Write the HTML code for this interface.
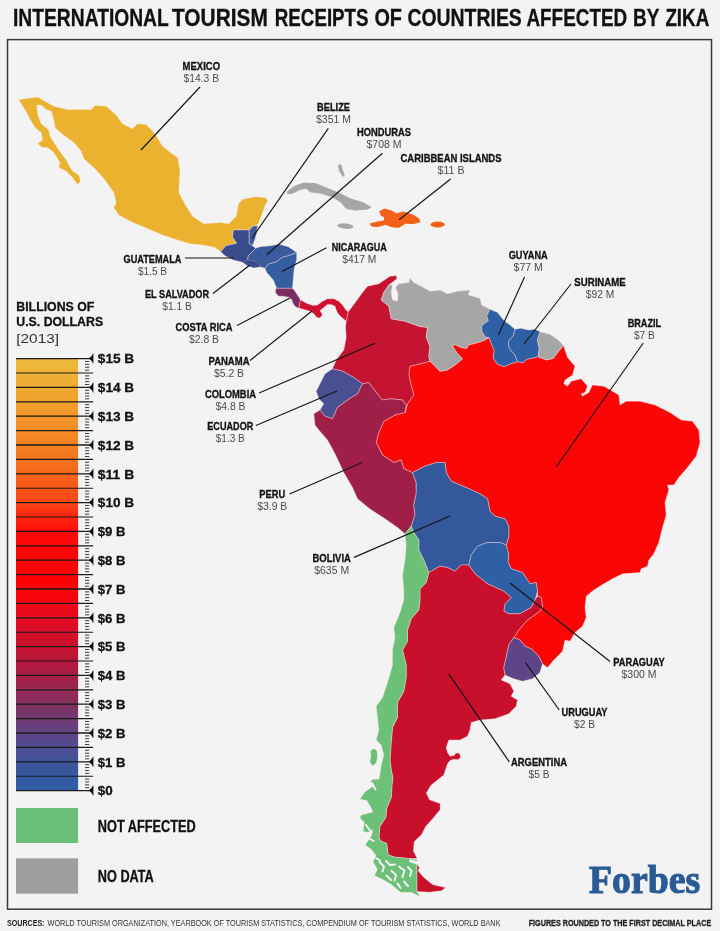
<!DOCTYPE html>
<html><head><meta charset="utf-8"><title>International Tourism Receipts of Countries Affected by Zika</title>
<style>html,body{margin:0;padding:0;background:#f3f3f3;}body{width:720px;height:931px;overflow:hidden;font-family:"Liberation Sans", sans-serif;}svg{display:block;will-change:transform;}text{font-family:"Liberation Sans", sans-serif;}</style>
</head><body>
<svg width="720" height="931" viewBox="0 0 720 931">
<defs><linearGradient id="lg" x1="0" y1="0" x2="0" y2="1">
<stop offset="0.000" stop-color="#ecba3b"/>
<stop offset="0.067" stop-color="#efa934"/>
<stop offset="0.133" stop-color="#f3952a"/>
<stop offset="0.200" stop-color="#f58122"/>
<stop offset="0.267" stop-color="#f6651b"/>
<stop offset="0.333" stop-color="#f94515"/>
<stop offset="0.367" stop-color="#fc260e"/>
<stop offset="0.400" stop-color="#fe0c07"/>
<stop offset="0.467" stop-color="#ff0000"/>
<stop offset="0.533" stop-color="#fb0205"/>
<stop offset="0.600" stop-color="#e40b1f"/>
<stop offset="0.667" stop-color="#c8102e"/>
<stop offset="0.733" stop-color="#a81e47"/>
<stop offset="0.800" stop-color="#82305f"/>
<stop offset="0.867" stop-color="#5f4486"/>
<stop offset="0.933" stop-color="#3f549a"/>
<stop offset="1.000" stop-color="#2c5fa6"/>
</linearGradient></defs>
<rect width="720" height="931" fill="#f3f3f3"/>
<text x="13.0" y="25.9" font-size="23.00" font-weight="bold" fill="#111" text-anchor="start" textLength="155.8" lengthAdjust="spacingAndGlyphs"  stroke="#111" stroke-width="0.3">INTERNATIONAL</text>
<text x="172.0" y="25.9" font-size="23.00" font-weight="bold" fill="#111" text-anchor="start" textLength="95.8" lengthAdjust="spacingAndGlyphs"  stroke="#111" stroke-width="0.3">TOURISM</text>
<text x="274.8" y="25.9" font-size="23.00" font-weight="bold" fill="#111" text-anchor="start" textLength="93.8" lengthAdjust="spacingAndGlyphs"  stroke="#111" stroke-width="0.3">RECEIPTS</text>
<text x="374.4" y="25.9" font-size="23.00" font-weight="bold" fill="#111" text-anchor="start" textLength="27.6" lengthAdjust="spacingAndGlyphs"  stroke="#111" stroke-width="0.3">OF</text>
<text x="407.4" y="25.9" font-size="23.00" font-weight="bold" fill="#111" text-anchor="start" textLength="114.4" lengthAdjust="spacingAndGlyphs"  stroke="#111" stroke-width="0.3">COUNTRIES</text>
<text x="526.4" y="25.9" font-size="23.00" font-weight="bold" fill="#111" text-anchor="start" textLength="100.8" lengthAdjust="spacingAndGlyphs"  stroke="#111" stroke-width="0.3">AFFECTED</text>
<text x="633.0" y="25.9" font-size="23.00" font-weight="bold" fill="#111" text-anchor="start" textLength="26.4" lengthAdjust="spacingAndGlyphs"  stroke="#111" stroke-width="0.3">BY</text>
<text x="665.4" y="25.9" font-size="23.00" font-weight="bold" fill="#111" text-anchor="start" textLength="43.8" lengthAdjust="spacingAndGlyphs"  stroke="#111" stroke-width="0.3">ZIKA</text>
<rect x="7.5" y="39.6" width="704" height="869.6" fill="none" stroke="#3a3a3a" stroke-width="1.5"/>
<g stroke="rgba(255,228,228,0.55)" stroke-width="0.7" stroke-linejoin="round">
<path d="M18.8 99.5 L37.5 97.0 L53.8 106.2 L67.5 109.5 L91.2 109.5 L95.0 105.5 L106.2 106.2 L116.2 115.0 L122.5 123.8 L132.5 128.8 L137.5 123.8 L146.2 124.5 L155.0 133.8 L162.5 146.2 L168.8 151.2 L177.5 157.5 L180.0 170.0 L178.8 192.5 L186.2 206.2 L192.5 216.2 L203.8 223.8 L220.0 222.5 L228.8 223.8 L236.2 216.2 L238.3 204.2 L242.5 199.2 L255.0 196.7 L265.0 197.5 L268.0 200.0 L265.0 205.8 L261.7 215.0 L258.3 224.2 L253.7 225.8 L249.2 230.0 L233.3 230.0 L232.5 236.7 L236.7 243.3 L225.8 245.8 L220.8 251.7 L215.0 247.5 L202.5 245.0 L190.0 243.8 L177.5 240.0 L162.5 235.0 L145.0 227.5 L130.0 221.2 L118.8 215.0 L113.8 207.5 L116.2 202.5 L113.8 192.5 L105.0 180.0 L95.0 168.8 L83.8 158.8 L81.2 151.2 L73.8 142.5 L65.0 136.2 L58.8 131.2 L55.0 127.5 L53.8 120.0 L51.2 111.2 L46.2 109.5 L41.2 105.0 L37.0 105.0 L37.5 113.8 L41.2 123.8 L48.8 130.0 L50.0 136.2 L58.8 150.0 L66.2 160.0 L72.5 171.2 L78.8 175.0 L80.5 181.2 L77.5 184.5 L72.5 177.5 L66.2 171.2 L58.8 167.5 L60.0 162.5 L53.8 152.5 L47.5 147.5 L42.5 147.5 L37.5 143.8 L42.5 140.0 L41.2 132.5 L35.0 127.5 L31.2 121.2 L25.0 110.0Z" fill="#ebb22f" />
<path d="M430.0 361.2 L433.8 365.0 L440.0 371.2 L447.5 370.0 L455.0 365.0 L462.5 358.8 L457.5 353.8 L452.5 346.2 L455.0 344.5 L461.2 347.5 L466.7 348.3 L468.3 345.0 L475.0 343.3 L483.3 340.8 L489.2 337.5 L490.8 342.5 L494.2 350.0 L493.3 358.3 L497.5 364.2 L504.2 366.7 L511.7 363.3 L517.5 361.7 L523.3 362.5 L526.7 359.2 L531.7 358.3 L538.3 356.7 L546.7 360.0 L553.3 358.3 L558.3 351.7 L563.5 345.5 L567.5 357.5 L575.0 366.2 L572.5 375.0 L565.0 380.0 L563.8 383.8 L567.5 386.2 L571.2 381.2 L581.2 378.8 L587.5 386.2 L585.0 392.5 L581.2 393.8 L582.5 396.2 L588.8 392.5 L592.5 385.0 L603.8 386.2 L612.5 391.2 L618.8 395.0 L620.0 405.0 L626.2 401.2 L640.0 401.2 L655.0 405.0 L670.0 412.5 L681.2 420.0 L692.5 421.2 L698.8 430.0 L700.0 442.5 L696.2 456.2 L687.5 467.5 L678.8 477.5 L673.8 485.0 L667.5 485.0 L668.8 490.0 L665.0 502.5 L666.2 515.0 L662.5 527.5 L658.8 542.5 L653.8 553.8 L648.8 560.0 L647.5 566.2 L641.2 568.8 L640.0 572.5 L622.5 573.8 L612.5 578.8 L603.8 583.8 L593.8 590.0 L586.2 596.2 L585.0 607.5 L586.2 617.5 L582.5 626.2 L575.0 632.5 L570.0 641.2 L565.0 640.0 L562.5 651.2 L553.8 660.0 L547.5 667.5 L542.5 663.8 L538.8 656.2 L531.2 648.8 L525.0 646.2 L520.0 640.0 L513.8 637.5 L518.8 630.0 L527.5 620.0 L540.0 611.2 L542.5 606.2 L541.2 597.5 L537.5 596.0 L537.5 591.2 L536.2 582.5 L530.0 583.8 L522.5 572.5 L511.2 568.8 L508.0 562.0 L508.8 555.0 L506.2 545.0 L508.8 536.2 L508.8 526.2 L505.0 518.8 L495.0 516.2 L490.0 511.2 L487.5 498.8 L480.0 493.8 L466.2 487.5 L451.2 481.2 L446.2 472.5 L445.0 462.5 L436.2 462.5 L425.0 466.2 L412.5 472.5 L403.8 468.8 L401.2 460.0 L393.8 462.5 L382.5 455.0 L376.2 442.5 L378.8 432.5 L383.8 421.2 L395.0 415.0 L405.0 412.5 L407.5 403.8 L413.8 395.0 L411.2 385.0 L408.8 375.0 L410.0 366.2 L420.0 363.8Z" fill="#fb0505" />
<path d="M348.1 311.9 L352.5 306.2 L362.5 292.5 L367.5 286.2 L378.8 283.8 L390.0 276.2 L396.2 275.5 L397.0 278.8 L388.8 285.0 L383.8 292.5 L381.2 300.0 L388.8 306.2 L391.2 318.8 L405.0 321.2 L418.8 326.2 L427.5 327.5 L426.2 337.5 L430.0 346.2 L428.8 356.2 L430.0 361.2 L420.0 363.8 L410.0 366.2 L408.8 375.0 L411.2 385.0 L413.8 395.0 L407.5 403.8 L405.0 412.5 L406.2 405.0 L402.5 400.0 L391.2 398.8 L382.5 400.0 L376.2 392.5 L368.8 382.5 L362.5 383.8 L353.8 377.5 L342.5 371.2 L332.5 368.8 L336.2 360.0 L343.8 350.0 L346.2 337.5 L345.5 327.0 L346.2 321.2Z" fill="#c41432" />
<path d="M392.5 285.0 L391.2 292.5 L392.5 300.0 L397.5 301.2 L398.0 293.8 L395.5 287.5 L398.8 283.8 L408.8 282.5 L410.0 278.0 L413.8 282.5 L421.2 286.2 L430.0 291.2 L440.0 290.0 L447.5 293.8 L457.5 291.2 L470.0 290.0 L468.3 295.0 L480.0 298.3 L481.7 305.0 L490.0 309.2 L486.7 315.8 L488.3 320.8 L481.7 325.8 L481.7 330.8 L485.0 336.7 L489.2 337.5 L483.3 340.8 L475.0 343.3 L468.3 345.0 L466.7 348.3 L461.2 347.5 L455.0 344.5 L452.5 346.2 L457.5 353.8 L462.5 358.8 L455.0 365.0 L447.5 370.0 L440.0 371.2 L433.8 365.0 L430.0 361.2 L428.8 356.2 L430.0 346.2 L426.2 337.5 L427.5 327.5 L418.8 326.2 L405.0 321.2 L391.2 318.8 L388.8 306.2 L381.2 300.0 L383.8 292.5 L388.8 285.0Z" fill="#a6a6a6" />
<path d="M490.0 309.2 L497.5 312.5 L504.2 320.8 L510.0 325.0 L515.0 329.2 L513.3 335.8 L508.3 341.7 L509.2 348.3 L515.0 355.0 L517.5 361.7 L511.7 363.3 L504.2 366.7 L497.5 364.2 L493.3 358.3 L494.2 350.0 L490.8 342.5 L489.2 337.5 L485.0 336.7 L481.7 330.8 L481.7 325.8 L488.3 320.8 L486.7 315.8Z" fill="#2f5fa4" />
<path d="M515.0 329.2 L520.8 328.3 L528.3 330.0 L535.0 329.2 L540.0 331.7 L537.5 340.0 L539.2 348.3 L538.3 356.7 L531.7 358.3 L526.7 359.2 L523.3 362.5 L517.5 361.7 L515.0 355.0 L509.2 348.3 L508.3 341.7 L513.3 335.8Z" fill="#2f5fa4" />
<path d="M540.0 331.7 L550.0 334.2 L558.3 340.0 L563.5 345.5 L558.3 351.7 L553.3 358.3 L546.7 360.0 L538.3 356.7 L539.2 348.3 L537.5 340.0Z" fill="#a6a6a6" />
<path d="M332.5 368.8 L342.5 371.2 L353.8 377.5 L362.5 383.8 L357.5 393.8 L347.5 400.0 L337.5 407.5 L332.5 418.8 L325.0 416.2 L320.0 410.0 L323.8 403.8 L318.8 398.8 L316.2 391.2 L320.0 383.8 L325.0 373.8Z" fill="#4a4f92" />
<path d="M320.0 410.0 L325.0 416.2 L332.5 418.8 L337.5 407.5 L347.5 400.0 L357.5 393.8 L362.5 383.8 L368.8 382.5 L376.2 392.5 L382.5 400.0 L391.2 398.8 L402.5 400.0 L406.2 405.0 L405.0 412.5 L395.0 415.0 L383.8 421.2 L378.8 432.5 L376.2 442.5 L382.5 455.0 L393.8 462.5 L401.2 460.0 L403.8 468.8 L412.5 472.5 L416.2 482.5 L416.2 493.8 L413.8 505.0 L415.0 515.0 L411.2 526.2 L405.0 533.8 L397.5 527.5 L385.0 518.8 L370.0 509.0 L357.5 498.8 L352.5 487.5 L343.8 472.5 L335.0 453.8 L327.5 440.0 L318.8 430.0 L315.0 425.0 L313.8 413.8Z" fill="#a01f48" />
<path d="M412.5 472.5 L425.0 466.2 L436.2 462.5 L445.0 462.5 L446.2 472.5 L451.2 481.2 L466.2 487.5 L480.0 493.8 L487.5 498.8 L490.0 511.2 L495.0 516.2 L505.0 518.8 L508.8 526.2 L508.8 536.2 L506.2 545.0 L500.0 542.5 L487.5 542.5 L477.5 546.2 L471.2 555.0 L468.8 565.0 L461.2 565.0 L455.0 571.2 L447.5 567.5 L440.0 566.2 L431.2 571.2 L428.8 572.5 L423.8 560.0 L418.8 550.0 L418.8 540.0 L413.8 532.5 L411.2 526.2 L415.0 515.0 L413.8 505.0 L416.2 493.8 L416.2 482.5Z" fill="#35589c" />
<path d="M506.2 545.0 L508.8 555.0 L508.0 562.0 L511.2 568.8 L522.5 572.5 L530.0 583.8 L536.2 582.5 L537.5 591.2 L535.0 600.0 L531.2 607.5 L520.0 613.8 L508.8 613.8 L503.8 611.2 L505.0 603.8 L511.2 597.5 L503.8 591.2 L487.5 583.8 L475.0 573.8 L468.8 565.0 L471.2 555.0 L477.5 546.2 L487.5 542.5 L500.0 542.5Z" fill="#2f5fa4" />
<path d="M428.8 572.5 L431.2 571.2 L440.0 566.2 L447.5 567.5 L455.0 571.2 L461.2 565.0 L468.8 565.0 L475.0 573.8 L487.5 583.8 L503.8 591.2 L511.2 597.5 L505.0 603.8 L503.8 611.2 L508.8 613.8 L520.0 613.8 L531.2 607.5 L535.0 600.0 L537.5 596.0 L541.2 597.5 L542.5 606.2 L540.0 611.2 L527.5 620.0 L518.8 630.0 L513.8 637.5 L508.8 645.0 L506.2 657.5 L503.8 667.5 L505.0 675.0 L501.2 680.0 L510.0 683.8 L513.8 691.2 L511.2 696.2 L517.5 700.0 L516.2 706.2 L508.8 713.8 L495.0 718.8 L480.0 720.0 L471.2 722.5 L470.0 730.0 L467.5 736.2 L460.0 740.0 L448.8 740.0 L446.2 747.5 L447.5 752.5 L450.0 756.3 L454.0 755.6 L456.0 753.0 L459.5 753.3 L460.7 757.0 L458.0 759.7 L454.0 759.2 L450.0 760.5 L447.5 763.8 L443.8 775.0 L431.0 785.3 L426.4 792.9 L429.5 799.8 L440.1 803.6 L440.1 809.7 L432.5 818.9 L425.6 826.5 L421.8 834.2 L414.2 841.8 L413.4 851.0 L417.2 858.6 L409.6 858.6 L394.3 857.1 L388.2 854.8 L386.7 843.3 L380.6 841.0 L379.0 837.2 L379.8 826.5 L385.9 817.4 L386.7 808.2 L391.3 797.5 L392.0 785.3 L392.8 777.6 L391.3 770.0 L390.0 760.0 L391.2 742.5 L392.5 727.5 L397.5 717.5 L397.5 702.5 L403.8 691.2 L406.2 677.5 L406.2 665.0 L402.5 650.0 L407.5 641.2 L407.5 630.0 L411.2 618.8 L418.8 610.0 L420.0 600.0 L420.0 588.8 L426.2 582.5Z" fill="#c8102c" />
<path d="M416.8 864.0 L419.5 867.8 L418.0 870.8 L423.3 877.0 L432.5 884.6 L445.5 887.6 L441.7 890.7 L429.5 892.2 L416.8 891.5Z" fill="#c8102c" />
<path d="M405.0 533.8 L411.2 526.2 L413.8 532.5 L418.8 540.0 L418.8 550.0 L423.8 560.0 L428.8 572.5 L426.2 582.5 L420.0 588.8 L420.0 600.0 L418.8 610.0 L411.2 618.8 L407.5 630.0 L407.5 641.2 L402.5 650.0 L406.2 665.0 L406.2 677.5 L403.8 691.2 L397.5 702.5 L397.5 717.5 L392.5 727.5 L391.2 742.5 L390.0 760.0 L391.3 770.0 L392.8 777.6 L392.0 785.3 L391.3 797.5 L386.7 808.2 L385.9 817.4 L379.8 826.5 L379.0 837.2 L380.6 841.0 L386.7 843.3 L388.2 854.8 L394.3 857.1 L409.6 858.6 L417.2 860.1 L416.8 864.0 L416.8 891.5 L420.3 896.8 L411.1 892.2 L400.4 892.2 L391.3 884.6 L383.6 880.0 L374.4 875.4 L377.5 869.3 L372.9 861.7 L376.0 855.6 L371.4 849.5 L365.3 844.9 L371.4 835.7 L372.9 829.6 L367.6 832.6 L363.0 831.1 L364.5 822.7 L359.9 817.4 L361.5 815.0 L372.9 812.0 L370.6 806.7 L366.8 800.6 L359.9 799.0 L365.3 791.4 L373.7 786.0 L370.6 781.5 L372.9 779.2 L379.0 779.2 L380.6 770.0 L381.2 765.0 L383.8 755.0 L381.2 745.0 L376.2 740.0 L378.8 730.0 L377.5 717.5 L376.2 706.2 L382.5 697.5 L387.5 682.5 L392.5 665.0 L392.5 650.0 L395.0 637.5 L393.8 627.5 L400.0 612.5 L403.8 600.0 L403.8 590.0 L402.5 575.0 L405.0 560.0 L406.2 545.0Z" fill="#6cc077" />
<path d="M371.0 751.0 L374.0 749.0 L376.5 751.0 L377.0 757.0 L375.5 763.0 L372.5 765.0 L370.5 762.0 L371.5 756.0Z" fill="#6cc077" stroke="#6cc077" stroke-width="0.9"/>
<path d="M513.8 637.5 L520.0 640.0 L525.0 646.2 L531.2 648.8 L538.8 656.2 L542.5 663.8 L540.0 672.5 L532.5 678.8 L522.5 681.2 L513.8 678.8 L505.0 675.0 L503.8 667.5 L506.2 657.5 L508.8 645.0Z" fill="#5e4588" />
<path d="M233.3 230.0 L249.2 230.0 L249.2 243.3 L252.5 245.8 L255.8 248.3 L248.3 255.8 L247.5 260.0 L243.3 262.5 L233.3 260.0 L225.0 255.8 L220.8 251.7 L225.8 245.8 L236.7 243.3 L232.5 236.7Z" fill="#3a4b8c" />
<path d="M253.7 225.8 L257.5 225.8 L256.7 233.3 L255.0 239.2 L252.5 245.8 L249.2 243.3 L249.2 235.0 L249.2 230.0Z" fill="#3b5a9c" />
<path d="M255.8 248.3 L260.0 246.7 L270.0 245.8 L279.2 244.2 L288.3 246.7 L296.7 252.5 L288.3 255.8 L281.7 257.5 L276.7 261.7 L268.3 264.2 L265.0 268.3 L259.2 266.7 L259.2 263.3 L253.3 260.8 L247.5 260.0 L248.3 255.8Z" fill="#3a5a9d" />
<path d="M243.3 262.5 L247.5 260.0 L253.3 260.8 L259.2 263.3 L259.2 266.7 L253.3 267.5 L246.7 265.0Z" fill="#3a4b8c" stroke="#3a4b8c" stroke-width="0.5"/>
<path d="M296.7 252.5 L296.7 260.0 L294.2 268.3 L293.3 278.3 L292.5 288.3 L276.7 288.3 L273.3 280.0 L266.7 272.5 L265.0 268.3 L268.3 264.2 L276.7 261.7 L281.7 257.5 L288.3 255.8Z" fill="#355da2" />
<path d="M276.2 288.3 L292.0 288.3 L293.8 289.4 L297.5 295.0 L300.6 300.0 L298.8 308.1 L295.6 306.9 L293.1 303.8 L291.9 300.0 L289.4 297.5 L283.8 296.2 L278.8 296.2 L275.6 293.1 L275.4 290.5Z" fill="#7a2f63" />
<path d="M300.6 300.0 L306.2 303.1 L313.1 305.6 L317.5 305.0 L322.5 301.2 L327.5 298.8 L333.8 298.8 L338.8 301.2 L342.5 305.0 L345.6 309.4 L348.1 311.9 L346.2 321.2 L341.9 317.5 L338.1 313.8 L336.2 310.0 L335.0 306.2 L331.2 304.4 L327.5 304.4 L323.8 307.5 L320.0 310.6 L322.5 314.4 L320.0 318.1 L316.9 317.5 L313.8 313.8 L310.0 311.2 L303.8 309.4 L298.8 308.1Z" fill="#d0102f" />
<path d="M287.1 191.9 L294.2 186.4 L303.6 183.1 L315.4 183.6 L327.2 188.3 L339.0 193.1 L350.8 199.0 L362.6 202.5 L370.9 207.2 L367.4 209.1 L355.6 210.1 L346.1 208.4 L341.4 202.5 L331.9 196.6 L320.1 193.1 L310.7 191.9 L306.0 188.3 L300.1 189.5 L291.8 193.5 L287.6 193.5Z" fill="#a6a6a6" stroke="#a6a6a6" stroke-width="0.9"/>
<path d="M338.4 165.0 L341.0 165.0 L342.1 169.4 L344.4 175.3 L342.8 176.3 L339.4 170.6Z" fill="#a6a6a6" stroke="#a6a6a6" stroke-width="0.9"/>
<path d="M379.7 211.4 L384.5 209.0 L391.5 210.9 L396.3 213.8 L403.3 211.9 L412.8 214.9 L418.7 218.5 L419.9 222.0 L412.8 223.7 L405.7 223.2 L398.6 227.4 L391.5 226.7 L385.6 224.4 L377.4 226.7 L371.5 226.0 L370.3 223.7 L377.4 222.0 L384.5 220.8 L384.5 217.3 L380.9 214.9Z" fill="#f26117" stroke="#f26117" stroke-width="0.9"/>
<ellipse cx="345.4" cy="226.1" rx="8.1" ry="2.7" fill="#a6a6a6" stroke="none" transform="rotate(5 345.4 226.1)"/>
<ellipse cx="437.7" cy="224.5" rx="7.1" ry="3.0" fill="#f26117" stroke="none"/>
</g>
<g stroke="#f3f3f3" stroke-width="2" fill="none" stroke-linecap="round" stroke-linejoin="round">
<path d="M379.5 862 L384 866.5 L382.5 871.5"/>
<path d="M386 861 L390 865 L395 864.5"/>
<path d="M391.5 871 L396 875 L394.5 880.5"/>
<path d="M399 866.5 L404.5 870.5 L402.5 877"/>
<path d="M386.5 875.5 L391 880"/>
<path d="M404 881.5 L408 886"/>
<path d="M397.5 883.5 L400.5 888"/>
<path d="M408 867 L411.5 871 L410 876"/>
<path d="M376 858 L380 860.5"/>
<path d="M372 783 L375.5 789.5"/>
<path d="M366.5 804 L371 810"/>
<path d="M366 825 L370 830.5"/>
<path d="M369.5 838.5 L373.5 841"/>
<path d="M409.3 860.6 L417.8 863.2" stroke-width="2.8" stroke-linecap="butt"/>
</g>
<rect x="16.0" y="358.6" width="62.1" height="432.0" fill="url(#lg)"/>
<g stroke="#1a1a1a" fill="#111">
<line x1="16.0" y1="358.60" x2="90.5" y2="358.60" stroke-width="1.3"/>
<path d="M93.4 353.10 Q91.6 356.80 88.8 358.60 Q91.6 360.40 93.4 364.10 Z" stroke="none"/>
<line x1="16.0" y1="373.00" x2="93.1" y2="373.00" stroke-width="1.15"/>
<line x1="16.0" y1="387.40" x2="90.5" y2="387.40" stroke-width="1.3"/>
<path d="M93.4 381.90 Q91.6 385.60 88.8 387.40 Q91.6 389.20 93.4 392.90 Z" stroke="none"/>
<line x1="16.0" y1="401.80" x2="93.1" y2="401.80" stroke-width="1.15"/>
<line x1="16.0" y1="416.20" x2="90.5" y2="416.20" stroke-width="1.3"/>
<path d="M93.4 410.70 Q91.6 414.40 88.8 416.20 Q91.6 418.00 93.4 421.70 Z" stroke="none"/>
<line x1="16.0" y1="430.60" x2="93.1" y2="430.60" stroke-width="1.15"/>
<line x1="16.0" y1="445.00" x2="90.5" y2="445.00" stroke-width="1.3"/>
<path d="M93.4 439.50 Q91.6 443.20 88.8 445.00 Q91.6 446.80 93.4 450.50 Z" stroke="none"/>
<line x1="16.0" y1="459.40" x2="93.1" y2="459.40" stroke-width="1.15"/>
<line x1="16.0" y1="473.80" x2="90.5" y2="473.80" stroke-width="1.3"/>
<path d="M93.4 468.30 Q91.6 472.00 88.8 473.80 Q91.6 475.60 93.4 479.30 Z" stroke="none"/>
<line x1="16.0" y1="488.20" x2="93.1" y2="488.20" stroke-width="1.15"/>
<line x1="16.0" y1="502.60" x2="90.5" y2="502.60" stroke-width="1.3"/>
<path d="M93.4 497.10 Q91.6 500.80 88.8 502.60 Q91.6 504.40 93.4 508.10 Z" stroke="none"/>
<line x1="16.0" y1="517.00" x2="93.1" y2="517.00" stroke-width="1.15"/>
<line x1="16.0" y1="531.40" x2="90.5" y2="531.40" stroke-width="1.3"/>
<path d="M93.4 525.90 Q91.6 529.60 88.8 531.40 Q91.6 533.20 93.4 536.90 Z" stroke="none"/>
<line x1="16.0" y1="545.80" x2="93.1" y2="545.80" stroke-width="1.15"/>
<line x1="16.0" y1="560.20" x2="90.5" y2="560.20" stroke-width="1.3"/>
<path d="M93.4 554.70 Q91.6 558.40 88.8 560.20 Q91.6 562.00 93.4 565.70 Z" stroke="none"/>
<line x1="16.0" y1="574.60" x2="93.1" y2="574.60" stroke-width="1.15"/>
<line x1="16.0" y1="589.00" x2="90.5" y2="589.00" stroke-width="1.3"/>
<path d="M93.4 583.50 Q91.6 587.20 88.8 589.00 Q91.6 590.80 93.4 594.50 Z" stroke="none"/>
<line x1="16.0" y1="603.40" x2="93.1" y2="603.40" stroke-width="1.15"/>
<line x1="16.0" y1="617.80" x2="90.5" y2="617.80" stroke-width="1.3"/>
<path d="M93.4 612.30 Q91.6 616.00 88.8 617.80 Q91.6 619.60 93.4 623.30 Z" stroke="none"/>
<line x1="16.0" y1="632.20" x2="93.1" y2="632.20" stroke-width="1.15"/>
<line x1="16.0" y1="646.60" x2="90.5" y2="646.60" stroke-width="1.3"/>
<path d="M93.4 641.10 Q91.6 644.80 88.8 646.60 Q91.6 648.40 93.4 652.10 Z" stroke="none"/>
<line x1="16.0" y1="661.00" x2="93.1" y2="661.00" stroke-width="1.15"/>
<line x1="16.0" y1="675.40" x2="90.5" y2="675.40" stroke-width="1.3"/>
<path d="M93.4 669.90 Q91.6 673.60 88.8 675.40 Q91.6 677.20 93.4 680.90 Z" stroke="none"/>
<line x1="16.0" y1="689.80" x2="93.1" y2="689.80" stroke-width="1.15"/>
<line x1="16.0" y1="704.20" x2="90.5" y2="704.20" stroke-width="1.3"/>
<path d="M93.4 698.70 Q91.6 702.40 88.8 704.20 Q91.6 706.00 93.4 709.70 Z" stroke="none"/>
<line x1="16.0" y1="718.60" x2="93.1" y2="718.60" stroke-width="1.15"/>
<line x1="16.0" y1="733.00" x2="90.5" y2="733.00" stroke-width="1.3"/>
<path d="M93.4 727.50 Q91.6 731.20 88.8 733.00 Q91.6 734.80 93.4 738.50 Z" stroke="none"/>
<line x1="16.0" y1="747.40" x2="93.1" y2="747.40" stroke-width="1.15"/>
<line x1="16.0" y1="761.80" x2="90.5" y2="761.80" stroke-width="1.3"/>
<path d="M93.4 756.30 Q91.6 760.00 88.8 761.80 Q91.6 763.60 93.4 767.30 Z" stroke="none"/>
<line x1="16.0" y1="776.20" x2="93.1" y2="776.20" stroke-width="1.15"/>
<line x1="16.0" y1="790.60" x2="90.5" y2="790.60" stroke-width="1.3"/>
<path d="M93.4 785.10 Q91.6 788.80 88.8 790.60 Q91.6 792.40 93.4 796.10 Z" stroke="none"/>
<line x1="85" y1="361.48" x2="89.2" y2="361.48" stroke-width="0.95" stroke="#333"/>
<line x1="85" y1="364.36" x2="89.2" y2="364.36" stroke-width="0.95" stroke="#333"/>
<line x1="85" y1="367.24" x2="89.2" y2="367.24" stroke-width="0.95" stroke="#333"/>
<line x1="85" y1="370.12" x2="89.2" y2="370.12" stroke-width="0.95" stroke="#333"/>
<line x1="85" y1="375.88" x2="89.2" y2="375.88" stroke-width="0.95" stroke="#333"/>
<line x1="85" y1="378.76" x2="89.2" y2="378.76" stroke-width="0.95" stroke="#333"/>
<line x1="85" y1="381.64" x2="89.2" y2="381.64" stroke-width="0.95" stroke="#333"/>
<line x1="85" y1="384.52" x2="89.2" y2="384.52" stroke-width="0.95" stroke="#333"/>
<line x1="85" y1="390.28" x2="89.2" y2="390.28" stroke-width="0.95" stroke="#333"/>
<line x1="85" y1="393.16" x2="89.2" y2="393.16" stroke-width="0.95" stroke="#333"/>
<line x1="85" y1="396.04" x2="89.2" y2="396.04" stroke-width="0.95" stroke="#333"/>
<line x1="85" y1="398.92" x2="89.2" y2="398.92" stroke-width="0.95" stroke="#333"/>
<line x1="85" y1="404.68" x2="89.2" y2="404.68" stroke-width="0.95" stroke="#333"/>
<line x1="85" y1="407.56" x2="89.2" y2="407.56" stroke-width="0.95" stroke="#333"/>
<line x1="85" y1="410.44" x2="89.2" y2="410.44" stroke-width="0.95" stroke="#333"/>
<line x1="85" y1="413.32" x2="89.2" y2="413.32" stroke-width="0.95" stroke="#333"/>
<line x1="85" y1="419.08" x2="89.2" y2="419.08" stroke-width="0.95" stroke="#333"/>
<line x1="85" y1="421.96" x2="89.2" y2="421.96" stroke-width="0.95" stroke="#333"/>
<line x1="85" y1="424.84" x2="89.2" y2="424.84" stroke-width="0.95" stroke="#333"/>
<line x1="85" y1="427.72" x2="89.2" y2="427.72" stroke-width="0.95" stroke="#333"/>
<line x1="85" y1="433.48" x2="89.2" y2="433.48" stroke-width="0.95" stroke="#333"/>
<line x1="85" y1="436.36" x2="89.2" y2="436.36" stroke-width="0.95" stroke="#333"/>
<line x1="85" y1="439.24" x2="89.2" y2="439.24" stroke-width="0.95" stroke="#333"/>
<line x1="85" y1="442.12" x2="89.2" y2="442.12" stroke-width="0.95" stroke="#333"/>
<line x1="85" y1="447.88" x2="89.2" y2="447.88" stroke-width="0.95" stroke="#333"/>
<line x1="85" y1="450.76" x2="89.2" y2="450.76" stroke-width="0.95" stroke="#333"/>
<line x1="85" y1="453.64" x2="89.2" y2="453.64" stroke-width="0.95" stroke="#333"/>
<line x1="85" y1="456.52" x2="89.2" y2="456.52" stroke-width="0.95" stroke="#333"/>
<line x1="85" y1="462.28" x2="89.2" y2="462.28" stroke-width="0.95" stroke="#333"/>
<line x1="85" y1="465.16" x2="89.2" y2="465.16" stroke-width="0.95" stroke="#333"/>
<line x1="85" y1="468.04" x2="89.2" y2="468.04" stroke-width="0.95" stroke="#333"/>
<line x1="85" y1="470.92" x2="89.2" y2="470.92" stroke-width="0.95" stroke="#333"/>
<line x1="85" y1="476.68" x2="89.2" y2="476.68" stroke-width="0.95" stroke="#333"/>
<line x1="85" y1="479.56" x2="89.2" y2="479.56" stroke-width="0.95" stroke="#333"/>
<line x1="85" y1="482.44" x2="89.2" y2="482.44" stroke-width="0.95" stroke="#333"/>
<line x1="85" y1="485.32" x2="89.2" y2="485.32" stroke-width="0.95" stroke="#333"/>
<line x1="85" y1="491.08" x2="89.2" y2="491.08" stroke-width="0.95" stroke="#333"/>
<line x1="85" y1="493.96" x2="89.2" y2="493.96" stroke-width="0.95" stroke="#333"/>
<line x1="85" y1="496.84" x2="89.2" y2="496.84" stroke-width="0.95" stroke="#333"/>
<line x1="85" y1="499.72" x2="89.2" y2="499.72" stroke-width="0.95" stroke="#333"/>
<line x1="85" y1="505.48" x2="89.2" y2="505.48" stroke-width="0.95" stroke="#333"/>
<line x1="85" y1="508.36" x2="89.2" y2="508.36" stroke-width="0.95" stroke="#333"/>
<line x1="85" y1="511.24" x2="89.2" y2="511.24" stroke-width="0.95" stroke="#333"/>
<line x1="85" y1="514.12" x2="89.2" y2="514.12" stroke-width="0.95" stroke="#333"/>
<line x1="85" y1="519.88" x2="89.2" y2="519.88" stroke-width="0.95" stroke="#333"/>
<line x1="85" y1="522.76" x2="89.2" y2="522.76" stroke-width="0.95" stroke="#333"/>
<line x1="85" y1="525.64" x2="89.2" y2="525.64" stroke-width="0.95" stroke="#333"/>
<line x1="85" y1="528.52" x2="89.2" y2="528.52" stroke-width="0.95" stroke="#333"/>
<line x1="85" y1="534.28" x2="89.2" y2="534.28" stroke-width="0.95" stroke="#333"/>
<line x1="85" y1="537.16" x2="89.2" y2="537.16" stroke-width="0.95" stroke="#333"/>
<line x1="85" y1="540.04" x2="89.2" y2="540.04" stroke-width="0.95" stroke="#333"/>
<line x1="85" y1="542.92" x2="89.2" y2="542.92" stroke-width="0.95" stroke="#333"/>
<line x1="85" y1="548.68" x2="89.2" y2="548.68" stroke-width="0.95" stroke="#333"/>
<line x1="85" y1="551.56" x2="89.2" y2="551.56" stroke-width="0.95" stroke="#333"/>
<line x1="85" y1="554.44" x2="89.2" y2="554.44" stroke-width="0.95" stroke="#333"/>
<line x1="85" y1="557.32" x2="89.2" y2="557.32" stroke-width="0.95" stroke="#333"/>
<line x1="85" y1="563.08" x2="89.2" y2="563.08" stroke-width="0.95" stroke="#333"/>
<line x1="85" y1="565.96" x2="89.2" y2="565.96" stroke-width="0.95" stroke="#333"/>
<line x1="85" y1="568.84" x2="89.2" y2="568.84" stroke-width="0.95" stroke="#333"/>
<line x1="85" y1="571.72" x2="89.2" y2="571.72" stroke-width="0.95" stroke="#333"/>
<line x1="85" y1="577.48" x2="89.2" y2="577.48" stroke-width="0.95" stroke="#333"/>
<line x1="85" y1="580.36" x2="89.2" y2="580.36" stroke-width="0.95" stroke="#333"/>
<line x1="85" y1="583.24" x2="89.2" y2="583.24" stroke-width="0.95" stroke="#333"/>
<line x1="85" y1="586.12" x2="89.2" y2="586.12" stroke-width="0.95" stroke="#333"/>
<line x1="85" y1="591.88" x2="89.2" y2="591.88" stroke-width="0.95" stroke="#333"/>
<line x1="85" y1="594.76" x2="89.2" y2="594.76" stroke-width="0.95" stroke="#333"/>
<line x1="85" y1="597.64" x2="89.2" y2="597.64" stroke-width="0.95" stroke="#333"/>
<line x1="85" y1="600.52" x2="89.2" y2="600.52" stroke-width="0.95" stroke="#333"/>
<line x1="85" y1="606.28" x2="89.2" y2="606.28" stroke-width="0.95" stroke="#333"/>
<line x1="85" y1="609.16" x2="89.2" y2="609.16" stroke-width="0.95" stroke="#333"/>
<line x1="85" y1="612.04" x2="89.2" y2="612.04" stroke-width="0.95" stroke="#333"/>
<line x1="85" y1="614.92" x2="89.2" y2="614.92" stroke-width="0.95" stroke="#333"/>
<line x1="85" y1="620.68" x2="89.2" y2="620.68" stroke-width="0.95" stroke="#333"/>
<line x1="85" y1="623.56" x2="89.2" y2="623.56" stroke-width="0.95" stroke="#333"/>
<line x1="85" y1="626.44" x2="89.2" y2="626.44" stroke-width="0.95" stroke="#333"/>
<line x1="85" y1="629.32" x2="89.2" y2="629.32" stroke-width="0.95" stroke="#333"/>
<line x1="85" y1="635.08" x2="89.2" y2="635.08" stroke-width="0.95" stroke="#333"/>
<line x1="85" y1="637.96" x2="89.2" y2="637.96" stroke-width="0.95" stroke="#333"/>
<line x1="85" y1="640.84" x2="89.2" y2="640.84" stroke-width="0.95" stroke="#333"/>
<line x1="85" y1="643.72" x2="89.2" y2="643.72" stroke-width="0.95" stroke="#333"/>
<line x1="85" y1="649.48" x2="89.2" y2="649.48" stroke-width="0.95" stroke="#333"/>
<line x1="85" y1="652.36" x2="89.2" y2="652.36" stroke-width="0.95" stroke="#333"/>
<line x1="85" y1="655.24" x2="89.2" y2="655.24" stroke-width="0.95" stroke="#333"/>
<line x1="85" y1="658.12" x2="89.2" y2="658.12" stroke-width="0.95" stroke="#333"/>
<line x1="85" y1="663.88" x2="89.2" y2="663.88" stroke-width="0.95" stroke="#333"/>
<line x1="85" y1="666.76" x2="89.2" y2="666.76" stroke-width="0.95" stroke="#333"/>
<line x1="85" y1="669.64" x2="89.2" y2="669.64" stroke-width="0.95" stroke="#333"/>
<line x1="85" y1="672.52" x2="89.2" y2="672.52" stroke-width="0.95" stroke="#333"/>
<line x1="85" y1="678.28" x2="89.2" y2="678.28" stroke-width="0.95" stroke="#333"/>
<line x1="85" y1="681.16" x2="89.2" y2="681.16" stroke-width="0.95" stroke="#333"/>
<line x1="85" y1="684.04" x2="89.2" y2="684.04" stroke-width="0.95" stroke="#333"/>
<line x1="85" y1="686.92" x2="89.2" y2="686.92" stroke-width="0.95" stroke="#333"/>
<line x1="85" y1="692.68" x2="89.2" y2="692.68" stroke-width="0.95" stroke="#333"/>
<line x1="85" y1="695.56" x2="89.2" y2="695.56" stroke-width="0.95" stroke="#333"/>
<line x1="85" y1="698.44" x2="89.2" y2="698.44" stroke-width="0.95" stroke="#333"/>
<line x1="85" y1="701.32" x2="89.2" y2="701.32" stroke-width="0.95" stroke="#333"/>
<line x1="85" y1="707.08" x2="89.2" y2="707.08" stroke-width="0.95" stroke="#333"/>
<line x1="85" y1="709.96" x2="89.2" y2="709.96" stroke-width="0.95" stroke="#333"/>
<line x1="85" y1="712.84" x2="89.2" y2="712.84" stroke-width="0.95" stroke="#333"/>
<line x1="85" y1="715.72" x2="89.2" y2="715.72" stroke-width="0.95" stroke="#333"/>
<line x1="85" y1="721.48" x2="89.2" y2="721.48" stroke-width="0.95" stroke="#333"/>
<line x1="85" y1="724.36" x2="89.2" y2="724.36" stroke-width="0.95" stroke="#333"/>
<line x1="85" y1="727.24" x2="89.2" y2="727.24" stroke-width="0.95" stroke="#333"/>
<line x1="85" y1="730.12" x2="89.2" y2="730.12" stroke-width="0.95" stroke="#333"/>
<line x1="85" y1="735.88" x2="89.2" y2="735.88" stroke-width="0.95" stroke="#333"/>
<line x1="85" y1="738.76" x2="89.2" y2="738.76" stroke-width="0.95" stroke="#333"/>
<line x1="85" y1="741.64" x2="89.2" y2="741.64" stroke-width="0.95" stroke="#333"/>
<line x1="85" y1="744.52" x2="89.2" y2="744.52" stroke-width="0.95" stroke="#333"/>
<line x1="85" y1="750.28" x2="89.2" y2="750.28" stroke-width="0.95" stroke="#333"/>
<line x1="85" y1="753.16" x2="89.2" y2="753.16" stroke-width="0.95" stroke="#333"/>
<line x1="85" y1="756.04" x2="89.2" y2="756.04" stroke-width="0.95" stroke="#333"/>
<line x1="85" y1="758.92" x2="89.2" y2="758.92" stroke-width="0.95" stroke="#333"/>
<line x1="85" y1="764.68" x2="89.2" y2="764.68" stroke-width="0.95" stroke="#333"/>
<line x1="85" y1="767.56" x2="89.2" y2="767.56" stroke-width="0.95" stroke="#333"/>
<line x1="85" y1="770.44" x2="89.2" y2="770.44" stroke-width="0.95" stroke="#333"/>
<line x1="85" y1="773.32" x2="89.2" y2="773.32" stroke-width="0.95" stroke="#333"/>
<line x1="85" y1="779.08" x2="89.2" y2="779.08" stroke-width="0.95" stroke="#333"/>
<line x1="85" y1="781.96" x2="89.2" y2="781.96" stroke-width="0.95" stroke="#333"/>
<line x1="85" y1="784.84" x2="89.2" y2="784.84" stroke-width="0.95" stroke="#333"/>
<line x1="85" y1="787.72" x2="89.2" y2="787.72" stroke-width="0.95" stroke="#333"/>
</g>
<text x="97.8" y="363.4" font-size="13.40" font-weight="bold" fill="#111" text-anchor="start" textLength="36.4" lengthAdjust="spacingAndGlyphs"  stroke="#111" stroke-width="0.3">$15 B</text>
<text x="97.8" y="392.2" font-size="13.40" font-weight="bold" fill="#111" text-anchor="start" textLength="36.4" lengthAdjust="spacingAndGlyphs"  stroke="#111" stroke-width="0.3">$14 B</text>
<text x="97.8" y="421.0" font-size="13.40" font-weight="bold" fill="#111" text-anchor="start" textLength="36.4" lengthAdjust="spacingAndGlyphs"  stroke="#111" stroke-width="0.3">$13 B</text>
<text x="97.8" y="449.8" font-size="13.40" font-weight="bold" fill="#111" text-anchor="start" textLength="36.4" lengthAdjust="spacingAndGlyphs"  stroke="#111" stroke-width="0.3">$12 B</text>
<text x="97.8" y="478.6" font-size="13.40" font-weight="bold" fill="#111" text-anchor="start" textLength="36.4" lengthAdjust="spacingAndGlyphs"  stroke="#111" stroke-width="0.3">$11 B</text>
<text x="97.8" y="507.4" font-size="13.40" font-weight="bold" fill="#111" text-anchor="start" textLength="36.4" lengthAdjust="spacingAndGlyphs"  stroke="#111" stroke-width="0.3">$10 B</text>
<text x="97.8" y="536.2" font-size="13.40" font-weight="bold" fill="#111" text-anchor="start" textLength="27.8" lengthAdjust="spacingAndGlyphs"  stroke="#111" stroke-width="0.3">$9 B</text>
<text x="97.8" y="565.0" font-size="13.40" font-weight="bold" fill="#111" text-anchor="start" textLength="27.8" lengthAdjust="spacingAndGlyphs"  stroke="#111" stroke-width="0.3">$8 B</text>
<text x="97.8" y="593.8" font-size="13.40" font-weight="bold" fill="#111" text-anchor="start" textLength="27.8" lengthAdjust="spacingAndGlyphs"  stroke="#111" stroke-width="0.3">$7 B</text>
<text x="97.8" y="622.6" font-size="13.40" font-weight="bold" fill="#111" text-anchor="start" textLength="27.8" lengthAdjust="spacingAndGlyphs"  stroke="#111" stroke-width="0.3">$6 B</text>
<text x="97.8" y="651.4" font-size="13.40" font-weight="bold" fill="#111" text-anchor="start" textLength="27.8" lengthAdjust="spacingAndGlyphs"  stroke="#111" stroke-width="0.3">$5 B</text>
<text x="97.8" y="680.2" font-size="13.40" font-weight="bold" fill="#111" text-anchor="start" textLength="27.8" lengthAdjust="spacingAndGlyphs"  stroke="#111" stroke-width="0.3">$4 B</text>
<text x="97.8" y="709.0" font-size="13.40" font-weight="bold" fill="#111" text-anchor="start" textLength="27.8" lengthAdjust="spacingAndGlyphs"  stroke="#111" stroke-width="0.3">$3 B</text>
<text x="97.8" y="737.8" font-size="13.40" font-weight="bold" fill="#111" text-anchor="start" textLength="27.8" lengthAdjust="spacingAndGlyphs"  stroke="#111" stroke-width="0.3">$2 B</text>
<text x="97.8" y="766.6" font-size="13.40" font-weight="bold" fill="#111" text-anchor="start" textLength="27.8" lengthAdjust="spacingAndGlyphs"  stroke="#111" stroke-width="0.3">$1 B</text>
<text x="97.8" y="795.4" font-size="13.40" font-weight="bold" fill="#111" text-anchor="start" textLength="15.0" lengthAdjust="spacingAndGlyphs"  stroke="#111" stroke-width="0.3">$0</text>
<text x="16.3" y="310.5" font-size="13.60" font-weight="bold" fill="#111" text-anchor="start" textLength="78.0" lengthAdjust="spacingAndGlyphs"  stroke="#111" stroke-width="0.3">BILLIONS OF</text>
<text x="16.3" y="326.4" font-size="13.60" font-weight="bold" fill="#111" text-anchor="start" textLength="86.8" lengthAdjust="spacingAndGlyphs"  stroke="#111" stroke-width="0.3">U.S. DOLLARS</text>
<text x="16.3" y="343.2" font-size="13.00" font-weight="normal" fill="#333" text-anchor="start" textLength="42.7" lengthAdjust="spacingAndGlyphs" >[2013]</text>
<rect x="16" y="808" width="62.1" height="35" fill="#6cc077"/>
<text x="97.8" y="831.5" font-size="15.60" font-weight="bold" fill="#111" text-anchor="start" textLength="98.0" lengthAdjust="spacingAndGlyphs"  stroke="#111" stroke-width="0.3">NOT AFFECTED</text>
<rect x="16" y="858.3" width="62.1" height="35.4" fill="#9e9e9e"/>
<text x="97.8" y="881.8" font-size="15.60" font-weight="bold" fill="#111" text-anchor="start" textLength="56.0" lengthAdjust="spacingAndGlyphs"  stroke="#111" stroke-width="0.3">NO DATA</text>
<g stroke="#151515" stroke-width="1.15">
<line x1="200.0" y1="87.0" x2="141.0" y2="150.0"/>
<line x1="328.3" y1="128.3" x2="251.8" y2="238.5"/>
<line x1="382.4" y1="153.3" x2="266.8" y2="254.8"/>
<line x1="450.6" y1="179.0" x2="399.1" y2="219.7"/>
<line x1="326.4" y1="247.8" x2="282.0" y2="271.5"/>
<line x1="185.0" y1="258.0" x2="234.0" y2="258.0"/>
<line x1="213.0" y1="293.5" x2="250.0" y2="265.0"/>
<line x1="237.0" y1="325.5" x2="290.0" y2="298.0"/>
<line x1="250.0" y1="360.5" x2="312.0" y2="311.0"/>
<line x1="259.0" y1="393.0" x2="375.0" y2="343.3"/>
<line x1="256.0" y1="425.5" x2="337.0" y2="391.0"/>
<line x1="289.5" y1="494.0" x2="362.2" y2="462.5"/>
<line x1="354.0" y1="557.4" x2="450.0" y2="516.0"/>
<line x1="524.5" y1="277.0" x2="498.3" y2="335.0"/>
<line x1="571.0" y1="284.0" x2="524.0" y2="344.0"/>
<line x1="643.3" y1="343.0" x2="556.2" y2="467.0"/>
<line x1="610.0" y1="661.5" x2="510.0" y2="583.0"/>
<line x1="559.2" y1="710.0" x2="525.5" y2="662.6"/>
<line x1="509.3" y1="761.8" x2="448.8" y2="673.8"/>
</g>
<text x="201.3" y="70.0" font-size="10.60" font-weight="bold" fill="#111" text-anchor="middle" textLength="37.5" lengthAdjust="spacingAndGlyphs"  stroke="#111" stroke-width="0.3">MEXICO</text>
<text x="201.3" y="82.2" font-size="10.30" font-weight="normal" fill="#4a4a4a" text-anchor="middle" textLength="35.5" lengthAdjust="spacingAndGlyphs" >$14.3 B</text>
<text x="333.5" y="110.5" font-size="10.60" font-weight="bold" fill="#111" text-anchor="middle" textLength="33.0" lengthAdjust="spacingAndGlyphs"  stroke="#111" stroke-width="0.3">BELIZE</text>
<text x="333.5" y="122.7" font-size="10.30" font-weight="normal" fill="#4a4a4a" text-anchor="middle" textLength="35.0" lengthAdjust="spacingAndGlyphs" >$351 M</text>
<text x="384.0" y="136.0" font-size="10.60" font-weight="bold" fill="#111" text-anchor="middle" textLength="54.0" lengthAdjust="spacingAndGlyphs"  stroke="#111" stroke-width="0.3">HONDURAS</text>
<text x="384.0" y="148.2" font-size="10.30" font-weight="normal" fill="#4a4a4a" text-anchor="middle" textLength="35.0" lengthAdjust="spacingAndGlyphs" >$708 M</text>
<text x="451.0" y="162.0" font-size="10.60" font-weight="bold" fill="#111" text-anchor="middle" textLength="101.0" lengthAdjust="spacingAndGlyphs"  stroke="#111" stroke-width="0.3">CARIBBEAN ISLANDS</text>
<text x="451.0" y="174.2" font-size="10.30" font-weight="normal" fill="#4a4a4a" text-anchor="middle" textLength="27.0" lengthAdjust="spacingAndGlyphs" >$11 B</text>
<text x="359.3" y="251.2" font-size="10.60" font-weight="bold" fill="#111" text-anchor="middle" textLength="55.0" lengthAdjust="spacingAndGlyphs"  stroke="#111" stroke-width="0.3">NICARAGUA</text>
<text x="359.3" y="263.4" font-size="10.30" font-weight="normal" fill="#4a4a4a" text-anchor="middle" textLength="34.2" lengthAdjust="spacingAndGlyphs" >$417 M</text>
<text x="152.5" y="262.5" font-size="10.60" font-weight="bold" fill="#111" text-anchor="middle" textLength="58.0" lengthAdjust="spacingAndGlyphs"  stroke="#111" stroke-width="0.3">GUATEMALA</text>
<text x="152.5" y="274.7" font-size="10.30" font-weight="normal" fill="#4a4a4a" text-anchor="middle" textLength="29.0" lengthAdjust="spacingAndGlyphs" >$1.5 B</text>
<text x="177.0" y="298.0" font-size="10.60" font-weight="bold" fill="#111" text-anchor="middle" textLength="64.0" lengthAdjust="spacingAndGlyphs"  stroke="#111" stroke-width="0.3">EL SALVADOR</text>
<text x="177.0" y="310.2" font-size="10.30" font-weight="normal" fill="#4a4a4a" text-anchor="middle" textLength="29.5" lengthAdjust="spacingAndGlyphs" >$1.1 B</text>
<text x="204.0" y="330.5" font-size="10.60" font-weight="bold" fill="#111" text-anchor="middle" textLength="57.0" lengthAdjust="spacingAndGlyphs"  stroke="#111" stroke-width="0.3">COSTA RICA</text>
<text x="204.0" y="342.7" font-size="10.30" font-weight="normal" fill="#4a4a4a" text-anchor="middle" textLength="30.0" lengthAdjust="spacingAndGlyphs" >$2.8 B</text>
<text x="229.0" y="364.5" font-size="10.60" font-weight="bold" fill="#111" text-anchor="middle" textLength="41.0" lengthAdjust="spacingAndGlyphs"  stroke="#111" stroke-width="0.3">PANAMA</text>
<text x="229.0" y="376.7" font-size="10.30" font-weight="normal" fill="#4a4a4a" text-anchor="middle" textLength="30.0" lengthAdjust="spacingAndGlyphs" >$5.2 B</text>
<text x="230.5" y="397.5" font-size="10.60" font-weight="bold" fill="#111" text-anchor="middle" textLength="51.0" lengthAdjust="spacingAndGlyphs"  stroke="#111" stroke-width="0.3">COLOMBIA</text>
<text x="230.5" y="409.7" font-size="10.30" font-weight="normal" fill="#4a4a4a" text-anchor="middle" textLength="30.0" lengthAdjust="spacingAndGlyphs" >$4.8 B</text>
<text x="230.3" y="430.0" font-size="10.60" font-weight="bold" fill="#111" text-anchor="middle" textLength="46.0" lengthAdjust="spacingAndGlyphs"  stroke="#111" stroke-width="0.3">ECUADOR</text>
<text x="230.3" y="442.2" font-size="10.30" font-weight="normal" fill="#4a4a4a" text-anchor="middle" textLength="29.0" lengthAdjust="spacingAndGlyphs" >$1.3 B</text>
<text x="272.3" y="498.0" font-size="10.60" font-weight="bold" fill="#111" text-anchor="middle" textLength="26.0" lengthAdjust="spacingAndGlyphs"  stroke="#111" stroke-width="0.3">PERU</text>
<text x="272.3" y="510.2" font-size="10.30" font-weight="normal" fill="#4a4a4a" text-anchor="middle" textLength="30.0" lengthAdjust="spacingAndGlyphs" >$3.9 B</text>
<text x="331.7" y="561.5" font-size="10.60" font-weight="bold" fill="#111" text-anchor="middle" textLength="38.5" lengthAdjust="spacingAndGlyphs"  stroke="#111" stroke-width="0.3">BOLIVIA</text>
<text x="331.7" y="573.7" font-size="10.30" font-weight="normal" fill="#4a4a4a" text-anchor="middle" textLength="35.0" lengthAdjust="spacingAndGlyphs" >$635 M</text>
<text x="528.2" y="258.5" font-size="10.60" font-weight="bold" fill="#111" text-anchor="middle" textLength="39.0" lengthAdjust="spacingAndGlyphs"  stroke="#111" stroke-width="0.3">GUYANA</text>
<text x="528.2" y="270.7" font-size="10.30" font-weight="normal" fill="#4a4a4a" text-anchor="middle" textLength="29.3" lengthAdjust="spacingAndGlyphs" >$77 M</text>
<text x="600.0" y="285.5" font-size="10.60" font-weight="bold" fill="#111" text-anchor="middle" textLength="51.5" lengthAdjust="spacingAndGlyphs"  stroke="#111" stroke-width="0.3">SURINAME</text>
<text x="600.0" y="297.7" font-size="10.30" font-weight="normal" fill="#4a4a4a" text-anchor="middle" textLength="28.5" lengthAdjust="spacingAndGlyphs" >$92 M</text>
<text x="644.4" y="327.0" font-size="10.60" font-weight="bold" fill="#111" text-anchor="middle" textLength="33.5" lengthAdjust="spacingAndGlyphs"  stroke="#111" stroke-width="0.3">BRAZIL</text>
<text x="644.4" y="339.2" font-size="10.30" font-weight="normal" fill="#4a4a4a" text-anchor="middle" textLength="21.0" lengthAdjust="spacingAndGlyphs" >$7 B</text>
<text x="639.0" y="666.0" font-size="10.60" font-weight="bold" fill="#111" text-anchor="middle" textLength="51.5" lengthAdjust="spacingAndGlyphs"  stroke="#111" stroke-width="0.3">PARAGUAY</text>
<text x="639.0" y="678.2" font-size="10.30" font-weight="normal" fill="#4a4a4a" text-anchor="middle" textLength="35.0" lengthAdjust="spacingAndGlyphs" >$300 M</text>
<text x="584.5" y="716.0" font-size="10.60" font-weight="bold" fill="#111" text-anchor="middle" textLength="46.0" lengthAdjust="spacingAndGlyphs"  stroke="#111" stroke-width="0.3">URUGUAY</text>
<text x="584.5" y="728.2" font-size="10.30" font-weight="normal" fill="#4a4a4a" text-anchor="middle" textLength="21.0" lengthAdjust="spacingAndGlyphs" >$2 B</text>
<text x="539.0" y="766.0" font-size="10.60" font-weight="bold" fill="#111" text-anchor="middle" textLength="56.0" lengthAdjust="spacingAndGlyphs"  stroke="#111" stroke-width="0.3">ARGENTINA</text>
<text x="539.0" y="778.2" font-size="10.30" font-weight="normal" fill="#4a4a4a" text-anchor="middle" textLength="21.0" lengthAdjust="spacingAndGlyphs" >$5 B</text>
<text x="589.0" y="893.3" style="font-family:'Liberation Serif',serif" font-size="40.6" font-weight="bold" fill="#2a5b96" stroke="#2a5b96" stroke-width="1.1" textLength="111.2" lengthAdjust="spacingAndGlyphs">Forbes</text>
<text x="7" y="926" font-size="8.9" fill="#222"><tspan font-weight="bold" textLength="37.5" lengthAdjust="spacingAndGlyphs">SOURCES:</tspan></text>
<text x="47.5" y="926.0" font-size="8.90" font-weight="normal" fill="#333" text-anchor="start" textLength="453.0" lengthAdjust="spacingAndGlyphs" >WORLD TOURISM ORGANIZATION, YEARBOOK OF TOURISM STATISTICS, COMPENDIUM OF TOURISM STATISTICS, WORLD BANK</text>
<text x="528.7" y="926.0" font-size="8.90" font-weight="bold" fill="#222" text-anchor="start" textLength="182.5" lengthAdjust="spacingAndGlyphs"  stroke="#222" stroke-width="0.3">FIGURES ROUNDED TO THE FIRST DECIMAL PLACE</text>
</svg></body></html>
